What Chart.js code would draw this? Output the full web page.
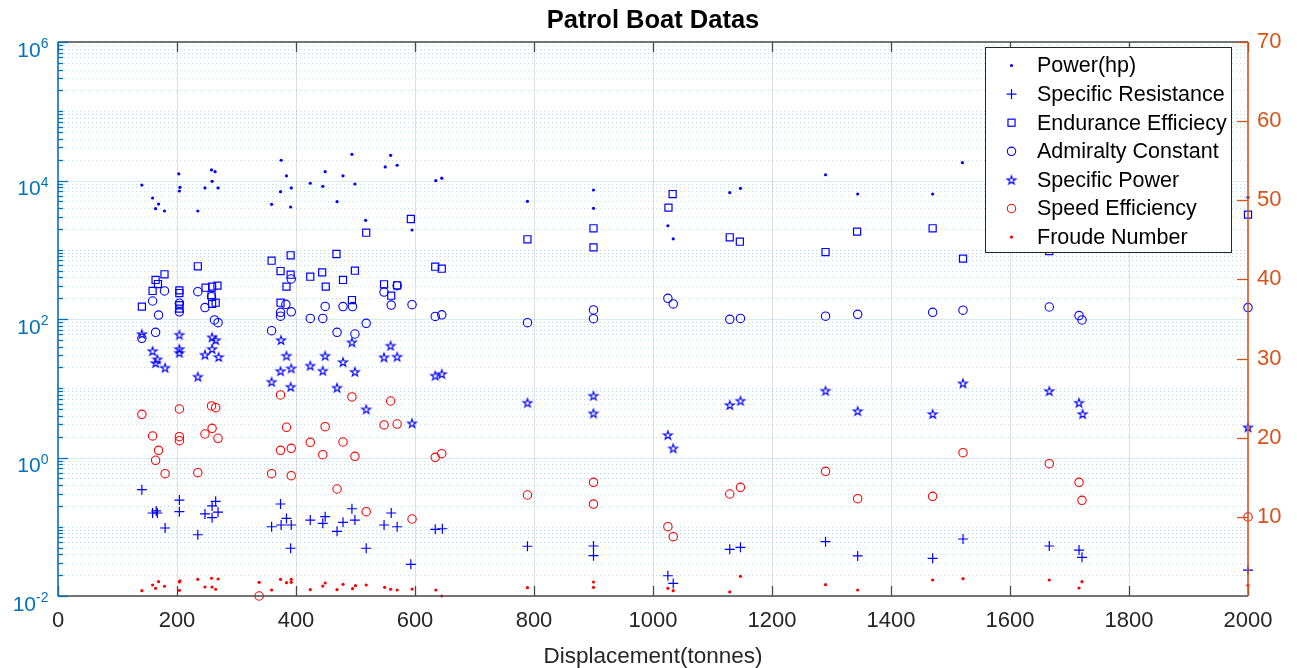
<!DOCTYPE html>
<html>
<head>
<meta charset="utf-8">
<script src="https://cdn.jsdelivr.net/npm/chart.js@4.4.1/dist/chart.umd.min.js"></script>
<style>
html,body{margin:0;padding:0;background:#ffffff;}
#wrap{width:1297px;height:668px;}
</style>
</head>
<body>
<div id="wrap"><canvas id="c" width="1297" height="668"></canvas></div>
<script>
// ---------------- DATA ----------------
const chartTitle = 'Patrol Boat Datas';
const xTitle = 'Displacement(tonnes)';
const seriesNames = ['Power(hp)','Specific Resistance','Endurance Efficiecy','Admiralty Constant','Specific Power','Speed Efficiency','Froude Number'];

const xTickValues = [0,200,400,600,800,1000,1200,1400,1600,1800,2000];
const leftTickValues = [1e-2,1e0,1e2,1e4,1e6];
const leftTickExponents = ['-2','0','2','4','6'];
const rightTickValues = [10,20,30,40,50,60,70];

// [displacement (tonnes), value]
const powerHp = [[141,8600],[159,5590],[169,4580],[164,3920],[179,3630],[203,12500],[205,7980],[204,7050],[235,3630],[247,7800],[258,14200],[264,13400],[259,9730],[269,7800],[359,4530],[375,19600],[374,6890],[384,11700],[392,7800],[391,4140],[424,9120],[445,8240],[449,13400],[469,4940],[479,11700],[494,23900],[499,8900],[517,2660],[550,15700],[559,23100],[570,16600],[595,1930],[635,9930],[645,10800],[789,5010],[900,7290],[900,3970],[1025,2220],[1034,1440],[1129,6670],[1147,7710],[1290,12100],[1344,6380],[1470,6380],[1520,18100],[2000,5720]];

const specificResistance = [[141,0.343],[159,0.158],[165,0.169],[167,0.158],[180,0.096],[204,0.243],[204,0.165],[235,0.0767],[247,0.153],[259,0.2],[265,0.233],[259,0.135],[269,0.163],[359,0.1],[374,0.213],[384,0.132],[375,0.106],[392,0.106],[391,0.0489],[424,0.125],[445,0.112],[449,0.14],[469,0.0859],[479,0.116],[494,0.182],[499,0.125],[518,0.0489],[548,0.106],[560,0.158],[570,0.1],[593,0.0287],[634,0.0918],[646,0.0935],[789,0.0523],[900,0.0527],[900,0.0382],[1025,0.0196],[1034,0.0152],[1129,0.0472],[1147,0.0505],[1290,0.0608],[1344,0.0379],[1470,0.035],[1521,0.0665],[1666,0.0527],[1716,0.0461],[1721,0.0362],[2000,0.0237]];

const enduranceEfficiency = [[141,151],[159,254],[164,366],[168,320],[179,442],[204,259],[204,237],[204,158],[204,141],[235,577],[248,283],[259,293],[268,303],[258,222],[259,165],[265,172],[359,695],[391,832],[374,493],[391,436],[384,293],[374,172],[424,408],[444,472],[450,293],[468,868],[479,366],[499,498],[494,188],[518,1763],[593,2780],[548,317],[570,307],[560,217],[634,569],[645,532],[789,1416],[900,2040],[900,1084],[1033,6380],[1026,4050],[1129,1513],[1146,1307],[1290,927],[1343,1824],[1470,2040],[1521,743],[1666,959],[2000,3210]];

const admiraltyConstant = [[141,52.6],[159,182],[179,254],[169,114],[164,64.3],[204,169],[204,127],[235,248],[247,146],[258,210],[263,96.8],[269,88.5],[359,67.8],[374,125],[374,110],[383,163],[392,127],[392,378],[424,102],[445,102],[449,152],[469,64.3],[479,151],[495,151],[499,60.7],[518,86.7],[548,245],[560,159],[570,303],[595,161],[634,109],[645,115],[789,88.5],[900,135],[900,101],[1025,199],[1034,165],[1129,99],[1147,102],[1290,110],[1344,117],[1470,125],[1521,134],[1666,149],[1716,112],[1721,96.8],[2000,146]];

const specificPower = [[141,60.7],[159,34.5],[167,26.2],[164,23.2],[180,19.8],[204,59.3],[204,36.9],[204,32.6],[235,14.7],[247,30.5],[259,54.4],[265,49.7],[259,36.9],[270,28.3],[359,12.4],[375,49.7],[384,29.5],[374,17.7],[392,19.4],[391,10.5],[424,21.2],[449,29.5],[445,17.9],[469,10.2],[479,23.9],[494,46.1],[499,17.3],[518,4.97],[559,41.2],[548,28.0],[570,28.6],[595,3.12],[634,15.2],[645,16.1],[789,6.18],[900,7.8],[900,4.35],[1025,2.11],[1034,1.36],[1129,5.73],[1147,6.61],[1290,9.22],[1344,4.69],[1470,4.25],[1521,11.8],[1666,9.12],[1716,6.18],[1722,4.25],[2000,2.73]];

const speedEfficiency = [[141,22.96],[159,20.22],[169,18.41],[164,17.15],[180,15.45],[204,23.63],[204,20.13],[204,19.62],[235,15.58],[247,20.47],[258,24.01],[265,23.79],[259,21.19],[269,19.93],[338,0],[359,15.45],[374,25.4],[384,21.32],[374,18.41],[392,18.66],[392,15.2],[424,19.42],[449,21.39],[445,17.85],[469,13.52],[479,19.46],[494,25.15],[499,17.65],[518,10.65],[559,24.64],[548,21.61],[570,21.73],[595,9.73],[634,17.52],[645,17.98],[789,12.76],[900,14.36],[900,11.62],[1025,8.76],[1034,7.5],[1129,12.89],[1147,13.73],[1290,15.75],[1344,12.3],[1470,12.59],[1521,18.11],[1666,16.72],[1716,14.36],[1721,12.09],[2000,9.98]];

const froudeNumber = [[141,0.67],[159,1.39],[169,1.81],[164,0.97],[179,1.23],[205,1.93],[204,1.77],[204,0.72],[235,2.11],[247,1.14],[258,2.24],[269,2.15],[259,1.14],[265,0.85],[338,1.73],[359,0.76],[374,2.11],[384,1.68],[392,2.11],[392,1.73],[424,0.8],[449,1.64],[445,1.26],[469,0.8],[479,1.48],[500,1.3],[495,0.92],[518,1.39],[549,1.1],[559,0.85],[570,0.76],[595,0.88],[635,0.76],[645,0],[789,1.05],[900,1.77],[900,1.1],[1025,0.97],[1034,0.67],[1129,0.51],[1147,2.49],[1290,1.43],[1344,0.76],[1470,2.02],[1521,2.19],[1666,2.02],[1721,1.81],[1716,1.01],[2000,1.35]];

// ---------------- STYLE ----------------
const FONT = '"Liberation Sans", Arial, Helvetica, sans-serif';
const AX_BLUE = '#0072BD', AX_ORANGE = '#D95319', AX_DARK = '#262626';
const BLUE = '#0000FF', RED = '#FF0000';

function makeStar(color, R) {
  const s = Math.ceil(R * 2 + 4);
  const c = document.createElement('canvas');
  c.width = s; c.height = s;
  const g = c.getContext('2d');
  g.strokeStyle = color; g.lineWidth = 1.1; g.lineJoin = 'miter';
  const cx = s / 2, cy = s / 2 + R * 0.1, r = R * 0.382;
  g.beginPath();
  for (let i = 0; i < 10; i++) {
    const ang = -Math.PI / 2 + i * Math.PI / 5;
    const rr = (i % 2) ? r : R;
    const px = cx + rr * Math.cos(ang), py = cy + rr * Math.sin(ang);
    if (i) g.lineTo(px, py); else g.moveTo(px, py);
  }
  g.closePath(); g.stroke();
  return c;
}
const starImg = makeStar(BLUE, 4.6);

const toPts = arr => arr.map(p => ({x: p[0], y: p[1]}));
const noFill = 'rgba(0,0,0,0)';

const datasets = [
  {label: seriesNames[0], data: toPts(powerHp), yAxisID: 'y', pointStyle: 'circle', pointRadius: 1.6, backgroundColor: BLUE, borderColor: BLUE, borderWidth: 0, mk: 'dot', mc: BLUE},
  {label: seriesNames[1], data: toPts(specificResistance), yAxisID: 'y', pointStyle: 'cross', pointRadius: 5, backgroundColor: BLUE, borderColor: BLUE, borderWidth: 1.2, mk: 'cross', mc: BLUE},
  {label: seriesNames[2], data: toPts(enduranceEfficiency), yAxisID: 'y', pointStyle: 'rect', pointRadius: 5, backgroundColor: noFill, borderColor: BLUE, borderWidth: 1.2, mk: 'rect', mc: BLUE},
  {label: seriesNames[3], data: toPts(admiraltyConstant), yAxisID: 'y', pointStyle: 'circle', pointRadius: 4.2, backgroundColor: noFill, borderColor: BLUE, borderWidth: 1.1, mk: 'circle', mc: BLUE},
  {label: seriesNames[4], data: toPts(specificPower), yAxisID: 'y', pointStyle: starImg, pointRadius: 4, backgroundColor: noFill, borderColor: BLUE, borderWidth: 1, mk: 'star', mc: BLUE},
  {label: seriesNames[5], data: toPts(speedEfficiency), yAxisID: 'y2', pointStyle: 'circle', pointRadius: 4.2, backgroundColor: noFill, borderColor: RED, borderWidth: 1.1, mk: 'circle', mc: RED},
  {label: seriesNames[6], data: toPts(froudeNumber), yAxisID: 'y2', pointStyle: 'circle', pointRadius: 1.6, backgroundColor: RED, borderColor: RED, borderWidth: 0, mk: 'dot', mc: RED}
];
datasets.forEach(d => { d.clip = false; d.pointHoverRadius = d.pointRadius; });

function line(ctx, x1, y1, x2, y2) { ctx.beginPath(); ctx.moveTo(x1, y1); ctx.lineTo(x2, y2); ctx.stroke(); }

function drawMarker(ctx, d, x, y) {
  ctx.save();
  ctx.strokeStyle = d.mc; ctx.fillStyle = d.mc; ctx.lineWidth = d.borderWidth || 1;
  if (d.mk === 'dot') { ctx.beginPath(); ctx.arc(x, y, 1.6, 0, Math.PI * 2); ctx.fill(); }
  else if (d.mk === 'cross') { line(ctx, x - 5, y, x + 5, y); line(ctx, x, y - 5, x, y + 5); }
  else if (d.mk === 'rect') { const h = 5 * Math.SQRT1_2; ctx.strokeRect(x - h, y - h, 2 * h, 2 * h); }
  else if (d.mk === 'circle') { ctx.beginPath(); ctx.arc(x, y, 4.2, 0, Math.PI * 2); ctx.stroke(); }
  else if (d.mk === 'star') { ctx.drawImage(starImg, x - starImg.width / 2, y - starImg.height / 2); }
  ctx.restore();
}

const matlabAxes = {
  id: 'matlabAxes',
  beforeDatasetsDraw(chart) {
    const {ctx, chartArea: a, scales} = chart;
    const xs = scales.x, ys = scales.y;
    ctx.save();
    ctx.lineWidth = 1;
    // minor dotted horizontal grid (log)
    ctx.setLineDash([1, 3]);
    ctx.strokeStyle = 'rgba(0,114,189,0.25)';
    for (let e = -2; e < 6; e++) {
      for (let k = 1; k < 10; k++) {
        if (k === 1 && (e % 2 === 0)) continue;
        const py = Math.round(ys.getPixelForValue(k * Math.pow(10, e))) + 0.5;
        line(ctx, a.left + 2, py, a.right, py);
      }
    }
    ctx.setLineDash([]);
    // major horizontal grid
    ctx.strokeStyle = 'rgba(0,114,189,0.15)';
    leftTickValues.forEach(v => {
      const py = Math.round(ys.getPixelForValue(v)) + 0.5;
      line(ctx, a.left, py, a.right, py);
    });
    // major vertical grid
    ctx.strokeStyle = 'rgba(38,38,38,0.15)';
    xTickValues.forEach(v => {
      if (v === xs.min || v === xs.max) return;
      const px = Math.round(xs.getPixelForValue(v)) + 0.5;
      line(ctx, px, a.top, px, a.bottom);
    });
    ctx.restore();
  },
  afterDatasetsDraw(chart) {
    const {ctx, chartArea: a, scales} = chart;
    const xs = scales.x, ys = scales.y, y2 = scales.y2;
    ctx.save();
    // box top / bottom
    ctx.lineWidth = 1.5;
    ctx.strokeStyle = '#4a4a4a';
    line(ctx, a.left, a.bottom, a.right, a.bottom);
    line(ctx, a.left, a.top, a.right, a.top);
    // x ticks (inward, top and bottom)
    ctx.lineWidth = 1.3;
    xTickValues.forEach(v => {
      const px = Math.round(xs.getPixelForValue(v)) + 0.5;
      line(ctx, px, a.bottom, px, a.bottom - 10);
      line(ctx, px, a.top, px, a.top + 10);
    });
    // left axis
    ctx.strokeStyle = AX_BLUE;
    ctx.lineWidth = 1.6;
    line(ctx, a.left, a.top, a.left, a.bottom);
    ctx.lineWidth = 1.3;
    for (let e = -2; e <= 6; e++) {
      for (let k = 1; k < 10; k++) {
        if (e === 6 && k > 1) break;
        const py = Math.round(ys.getPixelForValue(k * Math.pow(10, e))) + 0.5;
        const len = (k === 1 && e % 2 === 0) ? 10 : 5;
        line(ctx, a.left, py, a.left + len, py);
      }
    }
    // left tick labels: 10 with raised exponent
    ctx.fillStyle = AX_BLUE;
    ctx.textAlign = 'left';
    ctx.textBaseline = 'alphabetic';
    leftTickValues.forEach((v, i) => {
      const py = ys.getPixelForValue(v);
      const exp = leftTickExponents[i];
      ctx.font = '21px ' + FONT;
      const wBase = ctx.measureText('10').width;
      ctx.font = '14px ' + FONT;
      const wExp = ctx.measureText(exp).width;
      const x0 = a.left - 9.5 - wBase - wExp;
      ctx.font = '21px ' + FONT;
      ctx.fillText('10', x0, py + 14.5);
      ctx.font = '14px ' + FONT;
      ctx.fillText(exp, x0 + wBase, py + 6);
    });
    // right axis
    ctx.strokeStyle = AX_ORANGE;
    ctx.lineWidth = 1.6;
    line(ctx, a.right, a.top, a.right, a.bottom);
    ctx.lineWidth = 1.3;
    rightTickValues.forEach(v => {
      const py = Math.round(y2.getPixelForValue(v)) + 0.5;
      line(ctx, a.right, py, a.right - 11, py);
    });
    // legend
    const lx = 985.5, ly = 47.5, lw = 246, lh = 205;
    ctx.fillStyle = '#ffffff';
    ctx.fillRect(lx, ly, lw, lh);
    ctx.strokeStyle = '#262626';
    ctx.lineWidth = 1;
    ctx.strokeRect(lx, ly, lw, lh);
    ctx.font = '21.5px ' + FONT;
    ctx.textBaseline = 'middle';
    ctx.textAlign = 'left';
    chart.data.datasets.forEach((d, i) => {
      const ry = 65.5 + i * 28.6;
      drawMarker(ctx, d, 1011.5, ry);
      ctx.fillStyle = '#000000';
      ctx.fillText(d.label, 1037, ry + 1);
    });
    ctx.restore();
  }
};

Chart.defaults.font.family = FONT;

new Chart(document.getElementById('c'), {
  type: 'scatter',
  data: {datasets},
  options: {
    responsive: false,
    animation: false,
    events: [],
    layout: {padding: {left: 9, right: 0, top: 0, bottom: 0}},
    plugins: {
      legend: {display: false},
      tooltip: {enabled: false},
      title: {display: true, text: chartTitle, color: '#000000', font: {size: 25.5, weight: 'bold', lineHeight: 1.2}, padding: {top: 6, bottom: 5.4}}
    },
    scales: {
      x: {
        type: 'linear', position: 'bottom', min: 0, max: 2000,
        afterBuildTicks(s) { s.ticks = xTickValues.map(v => ({value: v})); },
        ticks: {callback: v => String(v), color: AX_DARK, font: {size: 22}, padding: 12, maxRotation: 0, autoSkip: false},
        grid: {display: false, drawTicks: false},
        border: {display: false},
        title: {display: true, text: xTitle, color: AX_DARK, font: {size: 22.5, lineHeight: 1}, padding: {top: 0, bottom: 0}},
        afterFit(s) { s.height = 72; }
      },
      y: {
        type: 'logarithmic', position: 'left', min: 1e-2, max: 1e6,
        afterBuildTicks(s) { s.ticks = leftTickValues.map(v => ({value: v, major: true})); },
        ticks: {display: false},
        grid: {display: false, drawTicks: false},
        border: {display: false},
        afterFit(s) { s.width = 49; }
      },
      y2: {
        type: 'linear', position: 'right', min: 0, max: 70,
        afterBuildTicks(s) { s.ticks = rightTickValues.map(v => ({value: v})); },
        ticks: {color: AX_ORANGE, font: {size: 22}, padding: 9, autoSkip: false},
        grid: {display: false, drawTicks: false},
        border: {display: false},
        afterFit(s) { s.width = 49; }
      }
    }
  },
  plugins: [matlabAxes]
});
</script>
</body>
</html>
